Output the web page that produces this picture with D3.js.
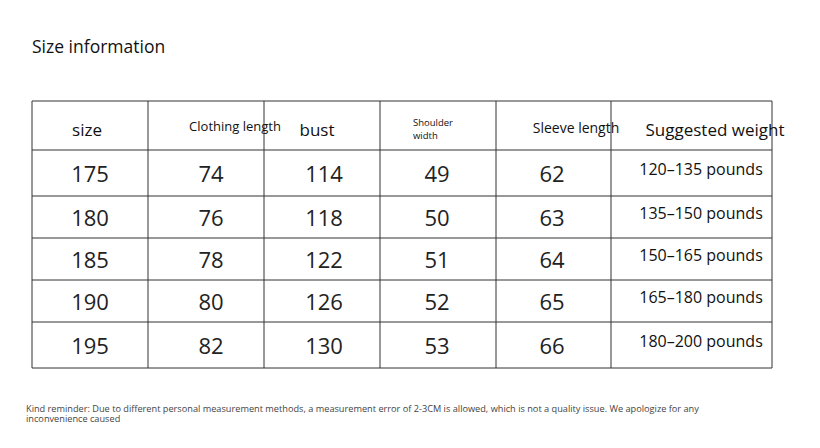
<!DOCTYPE html>
<html><head><meta charset="utf-8">
<script src="https://cdn.jsdelivr.net/npm/d3@7"></script>
<style>body{margin:0;background:#fff}</style>
</head><body>
<svg id="chart" width="820" height="448"></svg>
<script>
// table data
const sizes = [175, 180, 185, 190, 195];
const clothingLength = [74, 76, 78, 80, 82];
const bust = [114, 118, 122, 126, 130];
const shoulderWidth = [49, 50, 51, 52, 53];
const sleeveLength = [62, 63, 64, 65, 66];
const suggestedWeight = ["120–135 pounds", "135–150 pounds", "150–165 pounds", "165–180 pounds", "180–200 pounds"];
const colEdges = [32, 148, 264, 380, 496, 611, 772];
const rowEdges = [101, 150, 196, 238, 280, 322, 368];

const svg = d3.select("#chart");
const font = "Open Sans, Noto Sans, sans-serif";

svg.append("text").attr("x", 32).attr("y", 53).attr("font-family", font)
  .attr("font-size", 17.5).attr("fill", "#111").text("Size information");

const rowY = i => rowEdges[i];

const g = svg.append("g").attr("stroke", "#333").attr("stroke-width", 1);
colEdges.forEach(cx => g.append("line").attr("x1", cx).attr("x2", cx)
  .attr("y1", rowEdges[0]).attr("y2", rowEdges[rowEdges.length - 1]));
rowEdges.forEach(ry => g.append("line").attr("x1", colEdges[0]).attr("x2", colEdges[colEdges.length - 1])
  .attr("y1", ry).attr("y2", ry));

// header
const hdr = [
  {t: "size", x: 87, y: 136, s: 17},
  {t: "Clothing length", x: 235, y: 131, s: 13},
  {t: "bust", x: 317, y: 136, s: 17},
  {t: "Shoulder", x: 413, y: 126, s: 9.5, a: "start"},
  {t: "width", x: 413, y: 139, s: 9.5, a: "start"},
  {t: "Sleeve length", x: 576, y: 133, s: 14},
  {t: "Suggested weight", x: 715, y: 136, s: 17}
];
svg.append("g").selectAll("text").data(hdr).join("text")
  .attr("x", d => d.x).attr("y", d => d.y).attr("font-size", d => d.s)
  .attr("text-anchor", d => d.a || "middle").attr("font-family", font).attr("fill", "#111")
  .text(d => d.t);

const cols = [sizes, clothingLength, bust, shoulderWidth, sleeveLength];
const centers = [90, 211, 324, 437, 552];
cols.forEach((arr, c) => {
  svg.append("g").selectAll("text").data(arr).join("text")
    .attr("x", centers[c]).attr("y", (d, i) => (rowY(i + 1) + rowY(i + 2)) / 2 + 9)
    .attr("text-anchor", "middle").attr("font-family", font).attr("font-size", 22)
    .attr("fill", "#222").text(d => d);
});
svg.append("g").selectAll("text").data(suggestedWeight).join("text")
  .attr("x", 701).attr("y", (d, i) => (rowY(i + 1) + rowY(i + 2)) / 2 + 2)
  .attr("text-anchor", "middle").attr("font-family", font).attr("font-size", 16)
  .attr("fill", "#111").text(d => d);

const foot = ["Kind reminder: Due to different personal measurement methods, a measurement error of 2-3CM is allowed, which is not a quality issue. We apologize for any",
  "inconvenience caused"];
svg.append("g").selectAll("text").data(foot).join("text")
  .attr("x", 26).attr("y", (d, i) => 412 + i * 10).attr("font-family", font)
  .attr("font-size", 9.2).attr("fill", "#444").text(d => d);
</script>
</body></html>
